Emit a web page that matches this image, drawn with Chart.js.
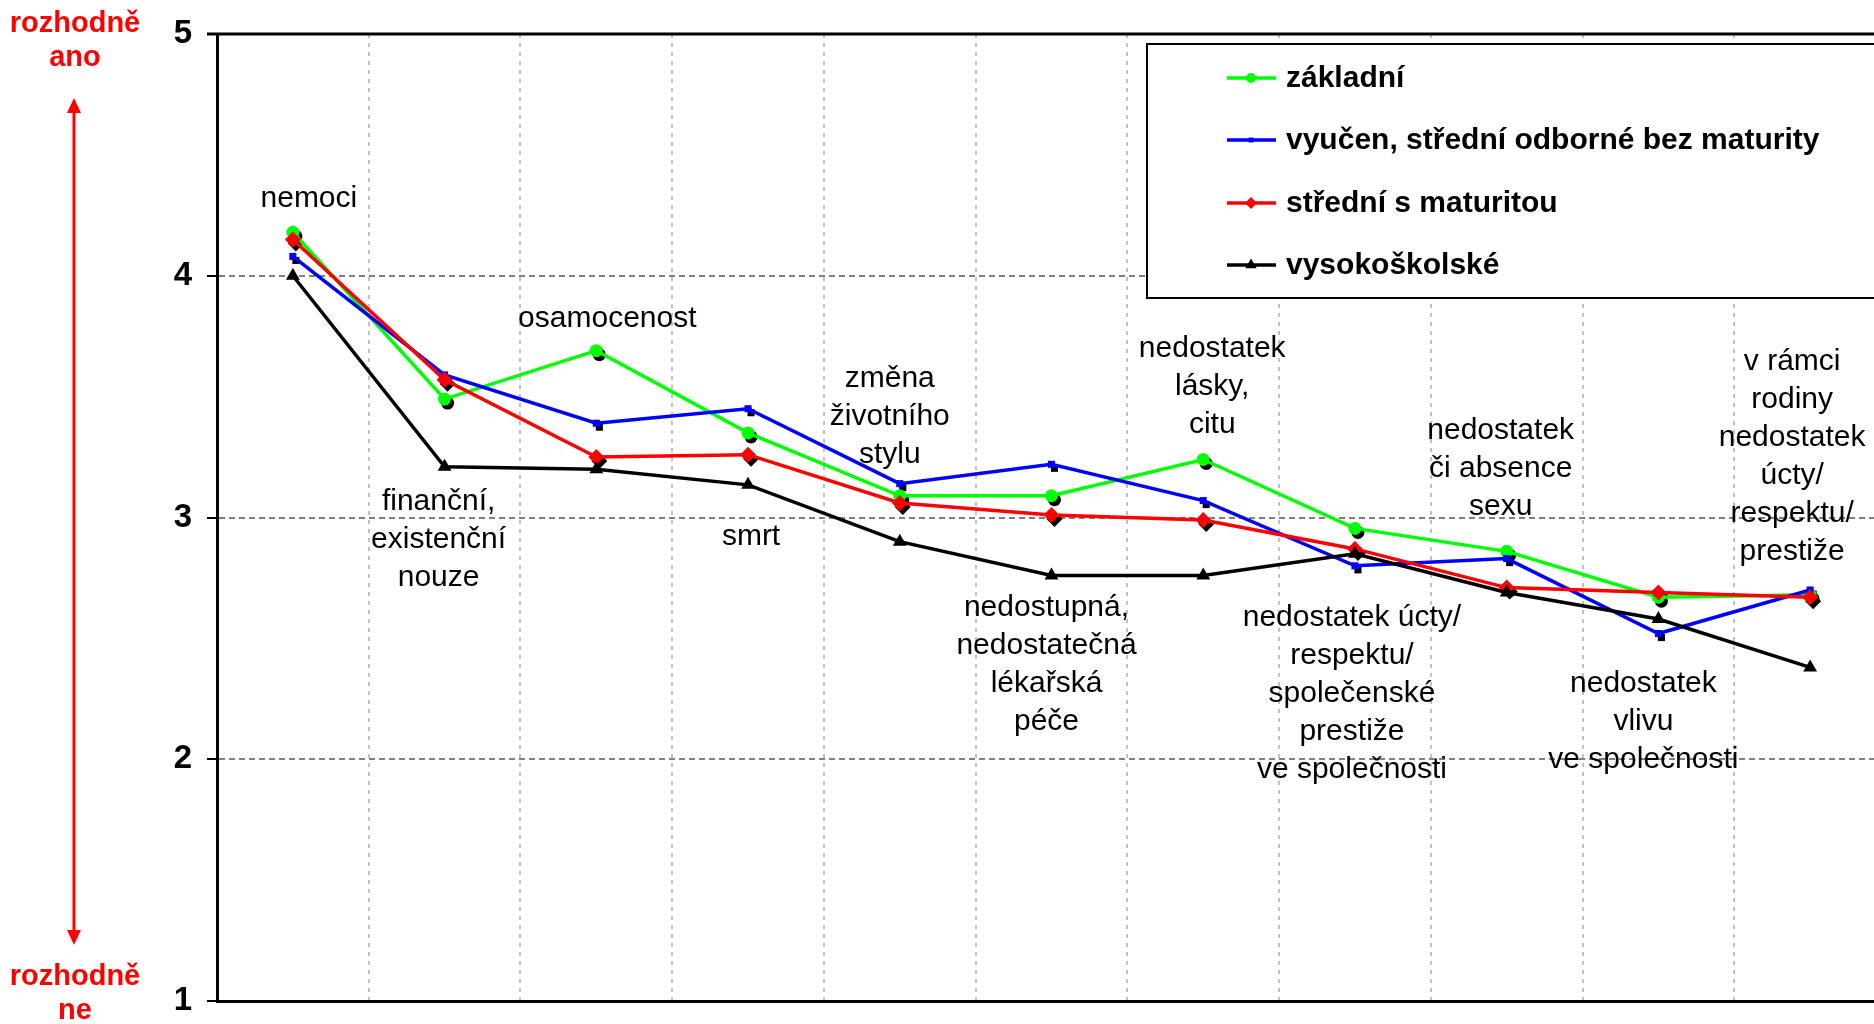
<!DOCTYPE html>
<html>
<head>
<meta charset="utf-8">
<script src="https://cdn.jsdelivr.net/npm/chart.js@4.4.1/dist/chart.umd.min.js"></script>
<style>
  html, body { margin: 0; padding: 0; background: #fff; overflow: hidden; }
  #wrap { width: 1874px; height: 1024px; overflow: hidden; position: relative; }
  #wrap canvas { position: absolute; left: 0; top: 0; }
</style>
</head>
<body>
<div id="wrap"><canvas id="chart" width="1900" height="1024"></canvas></div>
<script>
// categories (multi-line labels drawn next to the points)
const categories = [
  ["nemoci"],
  ["finanční,", "existenční", "nouze"],
  ["osamocenost"],
  ["smrt"],
  ["změna", "životního", "stylu"],
  ["nedostupná,", "nedostatečná", "lékařská", "péče"],
  ["nedostatek", "lásky,", "citu"],
  ["nedostatek úcty/", "respektu/", "společenské", "prestiže", "ve společnosti"],
  ["nedostatek", "či absence", "sexu"],
  ["nedostatek", "vlivu", "ve společnosti"],
  ["v rámci", "rodiny", "nedostatek", "úcty/", "respektu/", "prestiže"]
];

const seriesNames = ["základní", "vyučen, střední odborné bez maturity", "střední s maturitou", "vysokoškolské"];

const zakladni = [4.18, 3.49, 3.69, 3.35, 3.09, 3.09, 3.24, 2.955, 2.86, 2.67, 2.68];
const vyucen   = [4.08, 3.59, 3.39, 3.45, 3.14, 3.22, 3.07, 2.80, 2.83, 2.52, 2.70];
const stredni  = [4.15, 3.57, 3.25, 3.26, 3.06, 3.01, 2.99, 2.87, 2.71, 2.69, 2.67];
const vysoko   = [4.00, 3.21, 3.20, 3.135, 2.90, 2.76, 2.76, 2.85, 2.69, 2.58, 2.38];

const yTicks = [1, 2, 3, 4, 5];

// where each category label sits: [x shift in px, y of first line in axis units]
const labelPos = [
  [16, 4.32], [-6, 3.066], [11, 3.822], [3, 2.921], [-10, 3.574], [-5, 2.628],
  [9, 3.698], [-3, 2.587], [-6, 3.36], [-15, 2.314], [-18, 3.645]
];

const FONT = "'Liberation Sans', Arial, sans-serif";

const decorPlugin = {
  id: "decor",
  beforeDatasetsDraw(chart) {
    const ctx = chart.ctx;
    const area = chart.chartArea;
    // solid top border of plot area
    ctx.save();
    ctx.strokeStyle = "#000";
    ctx.lineWidth = 3;
    ctx.beginPath();
    ctx.moveTo(area.left - 10, area.top);
    ctx.lineTo(chart.width, area.top);
    ctx.stroke();

    // black shadow behind the coloured markers
    ctx.fillStyle = "#000";
    ctx.strokeStyle = "#000";
    chart.data.datasets.forEach((ds, i) => {
      if (ds.borderColor === "#000000") return;
      chart.getDatasetMeta(i).data.forEach(pt => {
        Chart.helpers.drawPoint(ctx, {
          pointStyle: pt.options.pointStyle,
          radius: pt.options.radius,
          rotation: 0,
          borderWidth: 0
        }, pt.x + 3, pt.y + 4);
      });
    });
    ctx.restore();
  },
  afterDatasetsDraw(chart) {
    const ctx = chart.ctx;
    const xs = chart.scales.x, ys = chart.scales.y;
    ctx.save();
    ctx.fillStyle = "#000";
    ctx.font = "30px " + FONT;
    ctx.textAlign = "center";
    ctx.textBaseline = "middle";
    categories.forEach((lines, i) => {
      const x = xs.getPixelForValue(i) + labelPos[i][0];
      const y0 = ys.getPixelForValue(labelPos[i][1]);
      lines.forEach((t, k) => ctx.fillText(t, x, y0 + k * 38));
    });
    ctx.restore();
  },
  afterDraw(chart) {
    const ctx = chart.ctx;
    ctx.save();
    // left side annotation with red arrow
    ctx.fillStyle = "#ff0000";
    ctx.strokeStyle = "#ff0000";
    ctx.font = "bold 29px " + FONT;
    ctx.textAlign = "center";
    ctx.textBaseline = "middle";
    ctx.fillText("rozhodně", 75, 24);
    ctx.fillText("ano", 75, 58);
    ctx.fillText("rozhodně", 75, 977);
    ctx.fillText("ne", 75, 1011);
    ctx.lineWidth = 3;
    ctx.beginPath();
    ctx.moveTo(74, 110);
    ctx.lineTo(74, 933);
    ctx.stroke();
    ctx.beginPath();
    ctx.moveTo(74, 98); ctx.lineTo(67, 113); ctx.lineTo(81, 113); ctx.closePath();
    ctx.fill();
    ctx.beginPath();
    ctx.moveTo(74, 945); ctx.lineTo(67, 930); ctx.lineTo(81, 930); ctx.closePath();
    ctx.fill();

    // legend box
    const bx = 1147, by = 44, bh = 254;
    ctx.fillStyle = "#fff";
    ctx.fillRect(bx, by, chart.width - bx + 10, bh);
    ctx.strokeStyle = "#000";
    ctx.lineWidth = 2;
    ctx.strokeRect(bx, by, chart.width - bx + 10, bh);
    const rows = [78, 140, 203, 265];
    const legendRadius = [5, 3.5, 6, 6.5];
    chart.data.datasets.forEach((ds, i) => {
      const y = rows[i];
      ctx.strokeStyle = ds.borderColor;
      ctx.fillStyle = ds.borderColor;
      ctx.lineWidth = 3.5;
      ctx.beginPath();
      ctx.moveTo(1227, y);
      ctx.lineTo(1276, y);
      ctx.stroke();
      Chart.helpers.drawPoint(ctx, {pointStyle: ds.pointStyle, radius: legendRadius[i], rotation: 0, borderWidth: 0}, 1251, y);
      ctx.fillStyle = "#000";
      ctx.font = "bold 30px " + FONT;
      ctx.textAlign = "left";
      ctx.textBaseline = "middle";
      ctx.fillText(ds.label, 1286, y + 1);
    });
    ctx.restore();
  }
};

function makeSet(label, data, color, style, radius, order) {
  return {
    label: label,
    data: data,
    borderColor: color,
    backgroundColor: color,
    pointBackgroundColor: color,
    pointBorderColor: color,
    pointBorderWidth: 0,
    pointStyle: style,
    pointRadius: radius,
    borderWidth: 3.5,
    tension: 0,
    fill: false,
    order: order
  };
}

new Chart(document.getElementById("chart").getContext("2d"), {
  type: "line",
  data: {
    labels: categories.map(c => c.join(" ")),
    datasets: [
      makeSet(seriesNames[0], zakladni, "#00ff00", "circle", 6.5, 3),
      makeSet(seriesNames[1], vyucen, "#0000ff", "rect", 5, 2),
      makeSet(seriesNames[2], stredni, "#ff0000", "rectRot", 8, 1),
      makeSet(seriesNames[3], vysoko, "#000000", "triangle", 8, 0)
    ]
  },
  options: {
    responsive: false,
    animation: false,
    devicePixelRatio: 1,
    layout: { padding: { left: 0, right: 14, top: 34, bottom: 23 } },
    plugins: { legend: { display: false }, tooltip: { enabled: false } },
    scales: {
      x: {
        offset: true,
        ticks: { display: false },
        grid: { offset: true, color: "#c0c0c0", lineWidth: 2, drawTicks: false },
        border: { color: "#000", width: 3, dash: [4, 5] },
        afterFit(scale) { scale.height = 0; }
      },
      y: {
        min: yTicks[0],
        max: yTicks[yTicks.length - 1],
        afterBuildTicks(scale) { scale.ticks = yTicks.map(v => ({ value: v })); },
        ticks: { color: "#000", font: { family: FONT, size: 33, weight: "bold" }, padding: 15 },
        grid: { color: "#808080", lineWidth: 2, tickColor: "#000", tickLength: 10, tickWidth: 2, tickBorderDash: [] },
        border: { color: "#000", width: 3, dash: [6, 4] },
        afterFit(scale) {
          scale.width = 217;
          scale.paddingTop = 0;
          scale.paddingBottom = 0;
        }
      }
    }
  },
  plugins: [decorPlugin]
});
</script>
</body>
</html>
